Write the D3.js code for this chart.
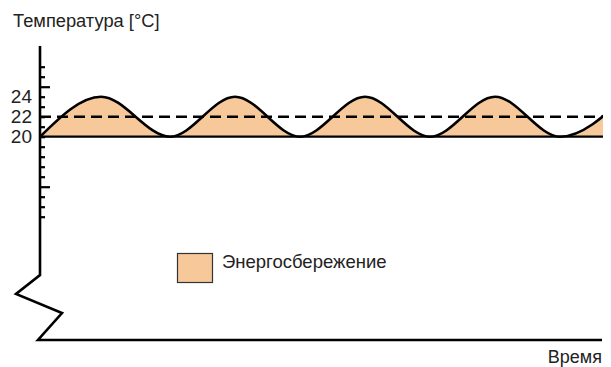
<!DOCTYPE html>
<html><head><meta charset="utf-8">
<script src="https://cdn.jsdelivr.net/npm/d3@7"></script>
<style>
body{margin:0;background:#fff}
svg{display:block}
text{font-family:Arial,"Liberation Sans",sans-serif;fill:#222}
</style></head>
<body><svg id="c" width="611" height="367"></svg>
<script>
// ---- data ----
const times = [0, 0.47, 1, 1.5, 2, 2.5, 3, 3.5, 4, 4.5];
const temps = [20, 24, 20, 24, 20, 24, 20, 24, 20, 24];
const setpoint = 22;
const baseTemp = 20;
const tickValues = [12,13,14,15,16,17,18,19,20,21,22,23,24,25,26,27];
const labeledTicks = [20, 22, 24];
const majorTicks = [15, 25];
const legendLabel = "Энергосбережение";
const yTitle = "Температура [°C]";
const xTitle = "Время";

// ---- layout ----
const svg = d3.select("#c");
const fillColor = "#F7C89A";
const x = d3.scaleLinear().domain([0, 4.33]).range([40, 603]);
const y = d3.scaleLinear().domain([20, 24]).range([136.7, 96.7]);
const axisTop = 46, axisBottom = 275, xAxisY = 340;

svg.append("clipPath").attr("id","clip").append("rect")
  .attr("x", x(0)).attr("y", 0).attr("width", x(4.33)-x(0)).attr("height", 367);

const pts = times.map((t,i)=>({t, v: temps[i]}));
const g = svg.append("g").attr("clip-path","url(#clip)");
g.append("path").datum(pts)
  .attr("fill", fillColor)
  .attr("d", d3.area().x(d=>x(d.t)).y0(y(baseTemp)).y1(d=>y(d.v)).curve(d3.curveMonotoneX));
g.append("path").datum(pts)
  .attr("fill","none").attr("stroke","#000").attr("stroke-width",2.6)
  .attr("d", d3.line().x(d=>x(d.t)).y(d=>y(d.v)).curve(d3.curveMonotoneX));

// baseline 20
svg.append("line").attr("x1", x(0)).attr("x2", x(4.33))
  .attr("y1", y(baseTemp)).attr("y2", y(baseTemp))
  .attr("stroke","#000").attr("stroke-width",2.2);
// setpoint dashed
svg.append("line").attr("x1", x(0)).attr("x2", x(4.33))
  .attr("y1", y(setpoint)).attr("y2", y(setpoint))
  .attr("stroke","#000").attr("stroke-width",2.4).attr("stroke-dasharray","11,6");

// y axis ticks
const yAxis = d3.axisRight(y).tickValues(tickValues).tickFormat("")
  .tickSize(5).tickSizeOuter(0);
const ag = svg.append("g").attr("transform",`translate(${x(0)},0)`).call(yAxis);
ag.select(".domain").remove();
ag.selectAll(".tick line").attr("stroke","#000").attr("stroke-width",2.2)
  .attr("x2", d => majorTicks.includes(d) ? 10 : 5);

// labels
const lg = svg.append("g").attr("transform",`translate(${x(0)-8},0)`)
  .call(d3.axisLeft(y).tickValues(labeledTicks).tickFormat(d3.format("d")).tickSize(0).tickPadding(0));
lg.select(".domain").remove();
lg.selectAll("text").attr("font-size",19).attr("font-family","Arial,'Liberation Sans',sans-serif")
  .attr("fill","#222").attr("dy","0.33em");

// axis line with break
const ax = x(0);
const axisPath = [[ax, axisTop],[ax, axisBottom],[ax-24, axisBottom+19],[ax+22, axisBottom+38],[ax-2, xAxisY],[602, xAxisY]];
svg.append("path").attr("d", d3.line()(axisPath))
  .attr("fill","none").attr("stroke","#000").attr("stroke-width",2.6).attr("stroke-linejoin","miter");

// titles
svg.append("text").attr("x",13).attr("y",27).attr("font-size",18.3).text(yTitle);
svg.append("text").attr("x",602).attr("y",363).attr("font-size",18).attr("text-anchor","end").text(xTitle);

// legend
svg.append("rect").attr("x",177.5).attr("y",253.5).attr("width",35).attr("height",29)
  .attr("fill",fillColor).attr("stroke","#333").attr("stroke-width",1.2);
svg.append("text").attr("x",222).attr("y",268).attr("font-size",18.5).text(legendLabel);
</script></body></html>
